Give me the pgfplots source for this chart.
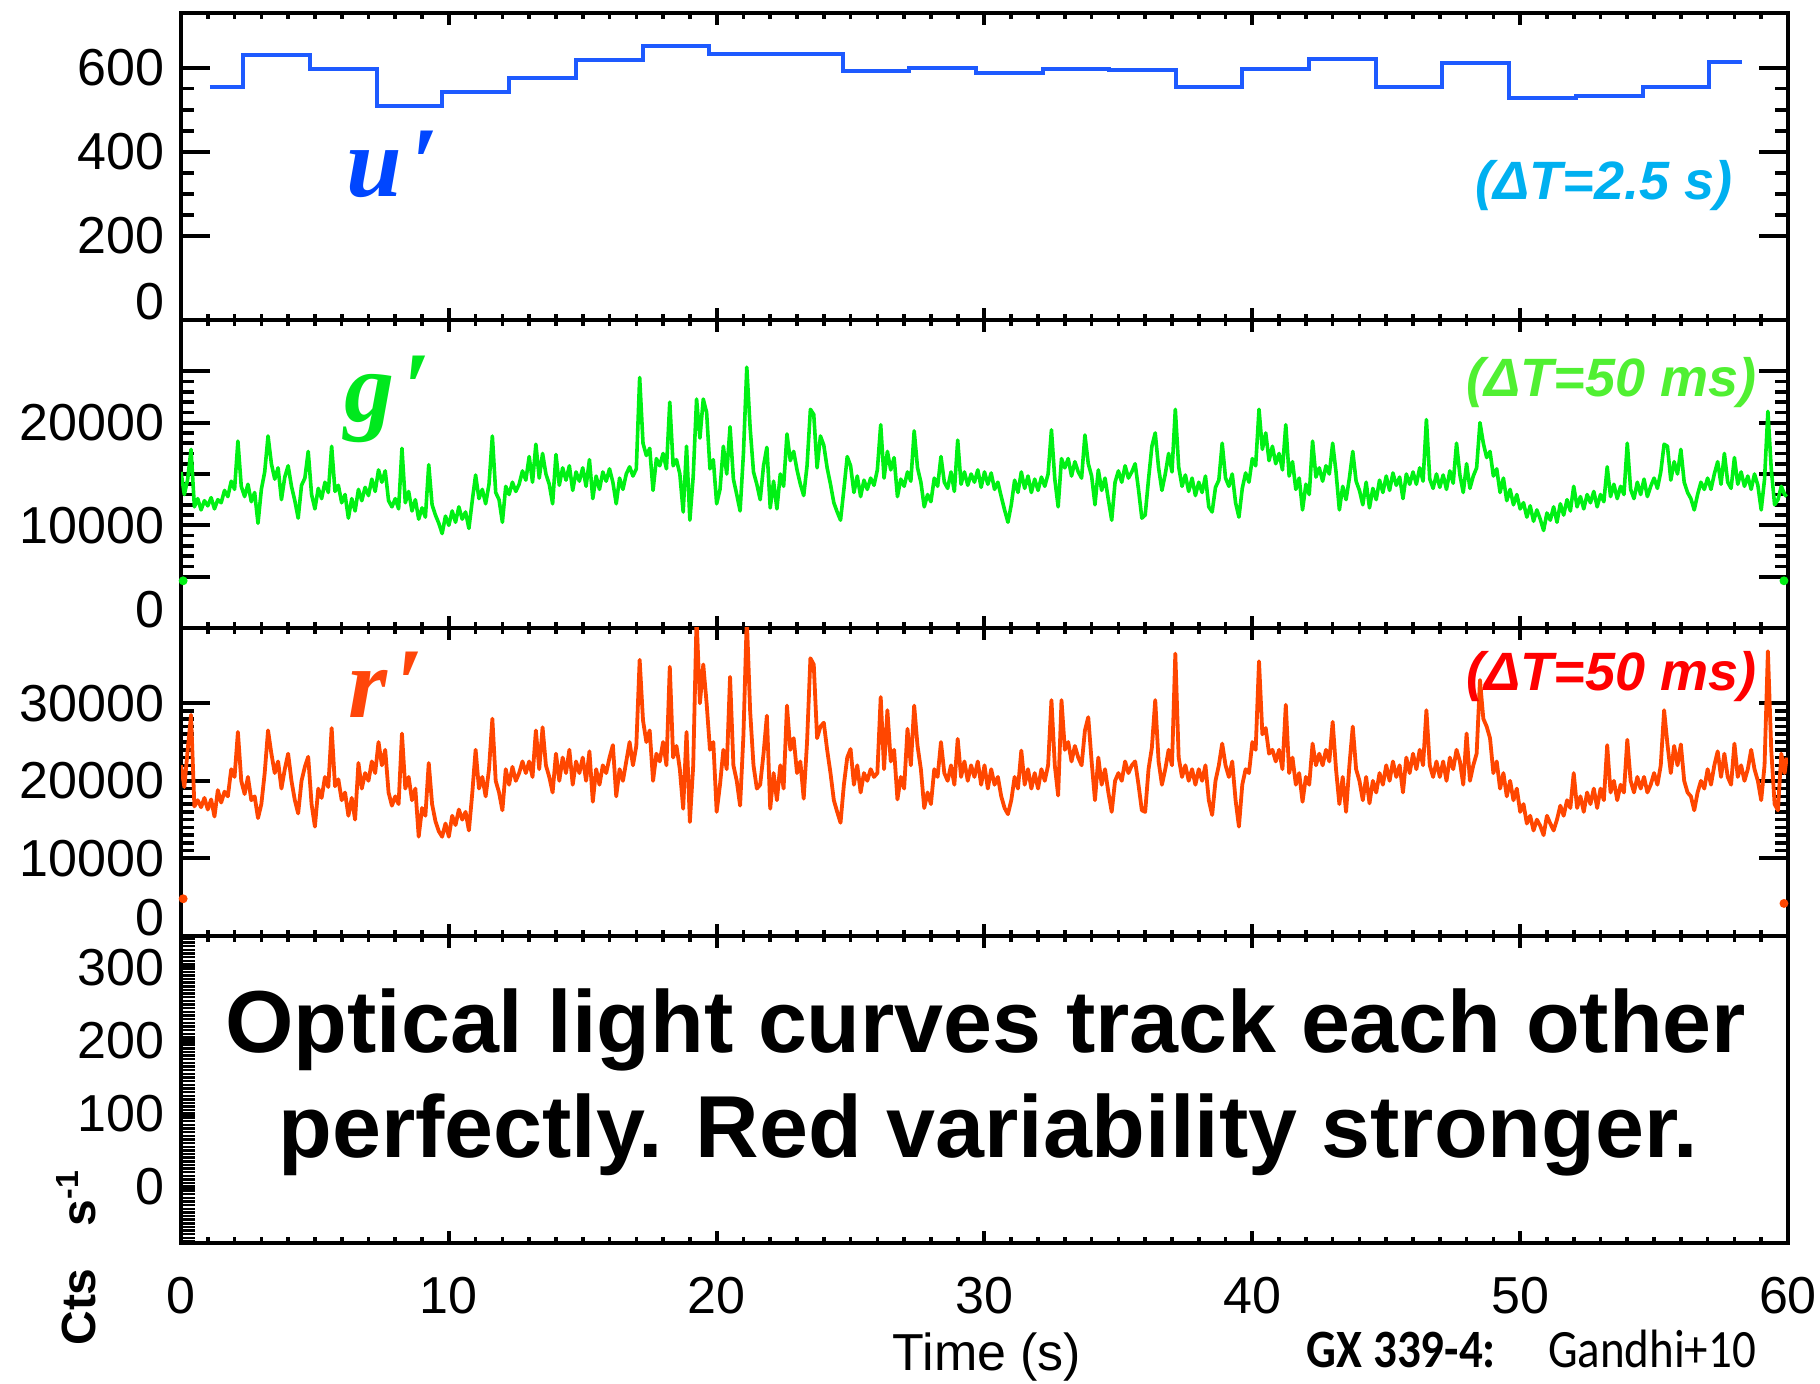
\documentclass[border=0pt]{standalone}
\usepackage{graphicx}
\usepackage{pgfplots}
\pgfplotsset{compat=1.18}
\usepackage{pgfplotstable}
\usepackage{fontspec}
\setmainfont{Liberation Sans}
\newfontfamily\lserif{Liberation Serif}
\newfontfamily\carlito{Carlito}

\definecolor{uline}{RGB}{30,90,255}
\definecolor{ulab}{RGB}{0,70,255}
\definecolor{ucyan}{RGB}{0,176,240}
\definecolor{gline}{RGB}{0,240,20}
\definecolor{glab}{RGB}{0,232,30}
\definecolor{gdt}{RGB}{80,240,50}
\definecolor{rline}{RGB}{255,70,0}
\definecolor{rlab}{RGB}{255,70,10}
\definecolor{rdt}{RGB}{255,0,0}

\pgfplotstableread{
t g r
0.000 15200 22000
0.125 13000 19200
0.250 14500 24000
0.375 17400 28500
0.500 11800 16700
0.625 12600 17500
0.750 11500 16600
0.875 12400 17800
1.000 11900 16300
1.125 12700 17600
1.250 11600 15400
1.375 12500 18800
1.500 12200 17200
1.625 13400 18600
1.750 12800 18000
1.875 14300 21500
2.000 13500 20500
2.125 18200 26300
2.250 13800 20000
2.375 12800 18300
2.500 14000 20500
2.625 12300 17500
2.750 13200 18000
2.875 10200 15200
3.000 13500 17000
3.125 15200 21000
3.250 18700 26500
3.375 16000 23500
3.500 14500 21000
3.625 15600 22500
3.750 12500 19000
3.875 14700 21500
4.000 15800 23500
4.125 13800 20000
4.250 12400 17500
4.375 10700 15800
4.500 13900 20000
4.625 14600 21800
4.750 17200 23100
4.875 13000 17000
5.000 11600 14100
5.125 13600 19000
5.250 12600 17800
5.375 14200 20500
5.500 13200 19200
5.625 17700 26800
5.750 13300 19300
5.875 13900 20200
6.000 12200 17500
6.125 13000 18500
6.250 10700 15500
6.375 12600 17800
6.500 11400 15000
6.625 13500 22300
6.750 12400 19000
6.875 13700 21000
7.000 12900 20000
7.125 14500 22500
7.250 13300 21000
7.375 15400 25000
7.500 14200 22000
7.625 15300 24000
7.750 12400 18500
7.875 11800 16800
8.000 12600 18000
8.125 11600 17000
8.250 17500 26100
8.375 12200 19000
8.500 13300 20500
8.625 11400 17500
8.750 12500 19000
8.875 10600 12800
9.000 11700 16500
9.125 10800 15500
9.250 15900 22300
9.375 12000 17000
9.500 11000 14800
9.625 10200 13500
9.750 9200 12800
9.875 10900 14500
10.000 10000 12800
10.125 11400 15500
10.250 10300 14300
10.375 11800 16300
10.500 10600 15000
10.625 11300 16000
10.750 9700 13600
10.875 12400 18400
11.000 14900 24000
11.125 12600 19000
11.250 13500 20500
11.375 12100 18000
11.500 14000 21500
11.625 18700 28000
11.750 13200 20000
11.875 12500 18500
12.000 10300 16200
12.125 13800 21500
12.250 13000 19500
12.375 14200 21800
12.500 13300 20000
12.625 14000 21000
12.750 15300 22500
12.875 14400 21000
13.000 16700 22500
13.125 14200 20500
13.250 17900 26500
13.375 14600 21500
13.500 17000 26900
13.625 15000 22000
13.750 14000 20500
13.875 12100 18500
14.000 16900 23500
14.125 13900 20000
14.250 15600 23000
14.375 14400 21000
14.500 15800 24000
14.625 13400 19500
14.750 15200 22500
14.875 14300 21000
15.000 15600 23000
15.125 13800 20000
15.250 16400 23800
15.375 12600 17300
15.500 14800 21500
15.625 13500 19500
15.750 15200 22000
15.875 14300 21000
16.000 15500 23000
16.125 14200 24600
16.250 12100 18000
16.375 14600 21500
16.500 13500 20000
16.625 15000 22500
16.750 15700 25000
16.875 14800 22000
17.000 15500 24500
17.125 24400 35600
17.250 18000 27800
17.375 16800 25000
17.500 17500 26500
17.625 13400 20000
17.750 16500 23500
17.875 15800 22500
18.000 17000 25000
18.125 15500 22000
18.250 22000 34700
18.375 15800 23000
18.500 16400 24500
18.625 15000 21500
18.750 11300 16400
18.875 17700 26300
19.000 10500 14700
19.125 14800 22000
19.250 22300 41000
19.375 18500 30000
19.500 22300 35000
19.625 21000 30000
19.750 15500 24000
19.875 16400 25000
20.000 12100 16000
20.125 13500 19500
20.250 17700 24000
20.375 15000 21500
20.500 19600 33400
20.625 14500 22000
20.750 13000 20000
20.875 11400 16800
21.000 17000 25900
21.125 25400 41000
21.250 19500 29000
21.375 15200 22000
21.500 14000 19000
21.625 12500 19500
21.750 15800 23500
21.875 17600 28400
22.000 11700 16400
22.125 14300 21000
22.250 11600 17500
22.375 15000 22000
22.500 13800 19000
22.625 18900 29700
22.750 16300 24000
22.875 17200 25500
23.000 15400 21000
23.125 14000 22500
23.250 12900 17700
23.375 15800 25000
23.500 21300 35800
23.625 20800 35000
23.750 15600 25500
23.875 18700 27000
24.000 17800 27500
24.125 15600 24000
24.250 14000 21000
24.375 12200 17500
24.500 11300 16000
24.625 10500 14600
24.750 13500 19500
24.875 16700 23000
25.000 15800 24100
25.125 13200 19500
25.250 14800 22000
25.375 12800 18500
25.500 14400 21000
25.625 13500 20000
25.750 14600 21500
25.875 13900 20500
26.000 15400 21000
26.125 19800 30800
26.250 14600 21500
26.375 17200 29100
26.500 15400 22500
26.625 16600 24000
26.750 12800 17600
26.875 14500 20500
27.000 13800 19000
27.125 15200 26700
27.250 14300 22000
27.375 19200 29700
27.500 15600 24500
27.625 14200 21500
27.750 11800 16500
27.875 13000 18500
28.000 12300 17000
28.125 14600 21500
28.250 13800 20500
28.375 16700 25000
28.500 14200 21000
28.625 13600 20000
28.750 15200 22000
28.875 13300 19500
29.000 18300 25400
29.125 14000 20500
29.250 15200 22500
29.375 13900 20000
29.500 15000 22000
29.625 14200 20500
29.750 15400 22500
29.875 13700 19500
30.000 15200 22000
30.125 14000 19000
30.250 15100 21500
30.375 13500 19500
30.500 14200 20500
30.625 12800 18000
30.750 11500 16500
30.875 10300 15700
31.000 12000 17500
31.125 14400 20500
31.250 13200 19000
31.375 15200 23900
31.500 13600 19500
31.625 14800 21500
31.750 13200 19000
31.875 14500 21000
32.000 13400 19000
32.125 14700 21500
32.250 13800 20000
32.375 15000 22000
32.500 19300 30400
32.625 14500 22000
32.750 11800 18100
32.875 16500 30400
33.000 15600 24000
33.125 16500 25000
33.250 14800 22500
33.375 16200 24500
33.500 15200 23000
33.625 14600 22000
33.750 18800 26500
33.875 16000 28200
34.000 14800 22500
34.125 12000 17500
34.250 15400 23000
34.375 13400 19500
34.500 14600 21500
34.625 12500 18500
34.750 10500 16000
34.875 14200 20000
35.000 15300 21000
35.125 14200 20000
35.250 15800 22500
35.375 14600 21000
35.500 15200 22000
35.625 16000 22500
35.750 13500 19500
35.875 10700 16200
36.000 11000 16000
36.125 14500 21500
36.250 17700 24300
36.375 19000 30400
36.500 15600 22500
36.625 13400 19500
36.750 15000 21500
36.875 17000 24000
37.000 15200 22000
37.125 21300 36400
37.250 15700 23000
37.375 13800 20500
37.500 14900 22000
37.625 13300 20000
37.750 14600 21500
37.875 12900 19500
38.000 14200 21500
38.125 13200 20000
38.250 14800 22000
38.375 11800 17500
38.500 11300 15600
38.625 13700 20000
38.750 14400 22000
38.875 18000 24800
39.000 14600 22000
39.125 13800 20500
39.250 15000 22500
39.375 12200 17500
39.500 10800 14100
39.625 13600 19500
39.750 15100 21500
39.875 14200 21000
40.000 16500 25000
40.125 15800 24000
40.250 21300 35400
40.375 17400 26000
40.500 19000 26800
40.625 16300 23500
40.750 17700 24000
40.875 16000 22500
41.000 17000 24000
41.125 15400 21500
41.250 19800 29800
41.375 14800 21000
41.500 16200 23000
41.625 13500 19500
41.750 14600 21000
41.875 11500 17300
42.000 14000 20500
42.125 13000 19500
42.250 18200 24800
42.375 14700 22000
42.500 15600 23500
42.625 14300 22000
42.750 15800 24000
42.875 15000 22500
43.000 18000 27600
43.125 15200 21500
43.250 11500 17000
43.375 13800 20500
43.500 12500 16000
43.625 14600 22000
43.750 17200 27000
43.875 14300 21500
44.000 13400 20000
44.125 12000 17500
44.250 14200 20500
44.375 11700 17100
44.500 13600 20000
44.625 12500 18500
44.750 14400 21000
44.875 13200 19500
45.000 14800 22000
45.125 13400 20000
45.250 15100 22500
45.375 13900 20500
45.500 14700 22000
45.625 12600 18500
45.750 15000 23000
45.875 14000 21000
46.000 15200 23500
46.125 14000 21500
46.250 15600 24000
46.375 14300 22000
46.500 20300 29100
46.625 14500 22000
46.750 13600 20500
46.875 15000 22500
47.000 13700 20500
47.125 14900 22500
47.250 13500 20000
47.375 15300 23000
47.500 14100 21500
47.625 18000 24000
47.750 14900 22500
47.875 13200 19500
48.000 16000 26100
48.125 13600 20000
48.250 14800 22000
48.375 15600 23500
48.500 20000 33000
48.625 18000 28000
48.750 16600 27000
48.875 17200 25500
49.000 14800 21000
49.125 15500 22500
49.250 13200 19000
49.375 14600 21000
49.500 12400 18000
49.625 13500 20000
49.750 12000 17500
49.875 13000 19000
50.000 11600 16000
50.125 12200 17000
50.250 10800 14500
50.375 11900 15500
50.500 10400 13600
50.625 11500 15000
50.750 10600 14200
50.875 9500 13000
51.000 11200 15500
51.125 10500 14500
51.250 11800 13600
51.375 10300 15000
51.500 12100 16800
51.625 11000 15500
51.750 12500 17500
51.875 11400 16500
52.000 13800 21000
52.125 11800 16500
52.250 12800 18000
52.375 11600 16000
52.500 13000 18500
52.625 12200 17000
52.750 13300 19000
52.875 11800 16500
53.000 13000 19000
53.125 12300 17500
53.250 15700 24600
53.375 12800 18500
53.500 14000 20000
53.625 12600 17500
53.750 13800 19500
53.875 13000 18500
54.000 18000 25300
54.125 13500 20000
54.250 12600 18500
54.375 14200 20500
54.500 13000 19000
54.625 14500 20500
54.750 12800 18500
54.875 13800 19500
55.000 14600 21000
55.125 13600 19500
55.250 15200 22000
55.375 17900 29100
55.500 17700 24700
55.625 14400 21000
55.750 16200 24500
55.875 15000 22000
56.000 17400 24700
56.125 14200 20000
56.250 13200 18500
56.375 12600 18000
56.500 11500 16200
56.625 13000 18500
56.750 14200 20000
56.875 13500 19000
57.000 14600 21500
57.125 13500 19500
57.250 15000 22000
57.375 16200 23800
57.500 14000 20500
57.625 17000 23500
57.750 14200 20500
57.875 13600 19500
58.000 16600 24800
58.125 14000 20500
58.250 15200 22000
58.375 13800 20000
58.500 14800 21500
58.625 13500 24000
58.750 15000 21500
58.875 13900 20000
59.000 11500 17500
59.125 14500 22000
59.250 21100 36700
59.375 15500 24000
59.500 12000 17000
59.625 12500 16200
59.750 13800 23500
59.875 13000 21000
59.950 12800 23000
}\lc

\pgfplotsset{
  panel/.style={
    scale only axis, width=401.75pt, anchor=south west,
    xmin=0, xmax=60,
    xtick={0,10,...,60}, minor x tick num=9, xticklabels={},
    scaled y ticks=false, scaled x ticks=false,
    axis line style={line width=1pt},
    tick style={black, line width=1pt},
    minor tick style={black, line width=0.9pt},
    major tick length=7.25pt, minor tick length=3.3pt,
    xtick style={/pgfplots/major tick length=3pt},
    minor x tick style={/pgfplots/minor tick length=1.5pt},
    tick label style={font=\fontsize{13}{15}\selectfont},
    yticklabel style={xshift=-0.7pt},
    extra y ticks={0}, extra y tick labels={0},
    extra y tick style={yticklabel style={yshift=4.5pt}},
  }
}

\begin{document}
\begin{tikzpicture}
\path[use as bounding box] (0,0) rectangle (455pt,345.75pt);

% Panel 1: u'
\begin{axis}[panel, at={(45.25pt,265.75pt)}, height=76.75pt,
  ymin=0, ymax=730, ytick={200,400,600}, yticklabels={200,400,600},
  minor y tick num=3]
\addplot[const plot, uline, line width=1pt] coordinates {
(1.08,553) (2.32,629) (4.83,596) (7.33,508) (9.75,541) (12.24,575)
(14.74,618) (17.25,652) (19.7,633) (24.7,591) (27.19,600) (29.68,588)
(32.17,598) (34.66,594) (37.14,555) (39.63,598) (42.12,621) (44.6,555)
(47.1,612) (49.6,527) (52.08,532) (54.57,555) (57.06,613) (58.3,613)};
\end{axis}

% Panel 2: g'
\begin{axis}[panel, at={(45.25pt,188.75pt)}, height=77pt,
  ymin=0, ymax=30000, ytick={5000,10000,15000,20000,25000},
  yticklabels={,10000,,20000,}, minor y tick num=4]
\addplot[gline, line width=0.9pt, line join=round] table[x=t,y=g]{\lc};
\addplot[only marks, mark=*, mark size=0.9pt, gline] coordinates {(0.08,4600) (59.85,4600)};
\end{axis}

% Panel 3: r'
\begin{axis}[panel, at={(45.25pt,111.75pt)}, height=77pt,
  ymin=0, ymax=39700, ytick={10000,20000,30000},
  yticklabels={10000,20000,30000}, minor y tick num=9]
\addplot[rline, line width=0.95pt, line join=round] table[x=t,y=r]{\lc};
\addplot[only marks, mark=*, mark size=0.9pt, rline] coordinates {(0.08,4800) (59.85,4200)};
\end{axis}

% Panel 4: empty
\begin{axis}[panel, at={(45.25pt,35pt)}, height=76.75pt,
  ymin=-77, ymax=344, ytick={0,100,200,300}, yticklabels={0,100,200,300},
  extra y ticks={}, minor ytick={-75,-70,...,340}, ytick pos=left,
  major tick length=3.5pt, minor tick length=3.5pt,
  minor y tick style={line width=0.6pt},
  xticklabels={0,10,20,30,40,50,60},
  xticklabel style={anchor=base, yshift=-17.5pt}]
\addplot[draw=none] coordinates {(0,0) (60,0)};
\end{axis}

% Labels
\node[anchor=base west, text=ulab, inner sep=0pt] at (86.5pt,296.5pt)
  {\lserif\bfseries\itshape\fontsize{25}{30}\selectfont u\hspace{2pt}′};
\node[anchor=base west, text=glab, inner sep=0pt] at (86pt,240.25pt)
  {\lserif\bfseries\itshape\fontsize{25}{30}\selectfont g\hspace{2pt}′};
\node[anchor=base west, text=rlab, inner sep=0pt] at (87pt,166.25pt)
  {\lserif\bfseries\itshape\fontsize{25}{30}\selectfont r\hspace{2pt}′};

\node[anchor=base, text=ucyan, inner sep=0pt] at (401pt,295.75pt)
  {\bfseries\itshape\fontsize{13.5}{16}\selectfont (ΔT=2.5 s)};
\node[anchor=base, text=gdt, inner sep=0pt] at (402.9pt,246.5pt)
  {\bfseries\itshape\fontsize{13.5}{16}\selectfont (ΔT=50 ms)};
\node[anchor=base, text=rdt, inner sep=0pt] at (402.9pt,173pt)
  {\bfseries\itshape\fontsize{13.5}{16}\selectfont (ΔT=50 ms)};

\node[anchor=base, inner sep=0pt] at (246.4pt,82.75pt)
  {\bfseries\fontsize{22}{26}\selectfont Optical light curves track each other};
\node[anchor=base, inner sep=0pt] at (247.1pt,56.5pt)
  {\bfseries\fontsize{22}{26}\selectfont perfectly. Red variability stronger.};

\node[anchor=base, inner sep=0pt] at (246.75pt,3.25pt)
  {\fontsize{13}{15}\selectfont Time (s)};
\node[anchor=base, rotate=90, inner sep=0pt] at (24pt,31.4pt)
  {\bfseries\fontsize{12}{14}\selectfont Cts\hspace{10.5pt}s\textsuperscript{-1}};
\node[anchor=base west, inner sep=0pt] at (326.5pt,4pt)
  {\carlito\fontsize{13.5}{16}\selectfont\scalebox{0.87}[1]{\bfseries GX 339-4:\mdseries\hspace{15pt}Gandhi+10}};
\end{tikzpicture}
\end{document}
